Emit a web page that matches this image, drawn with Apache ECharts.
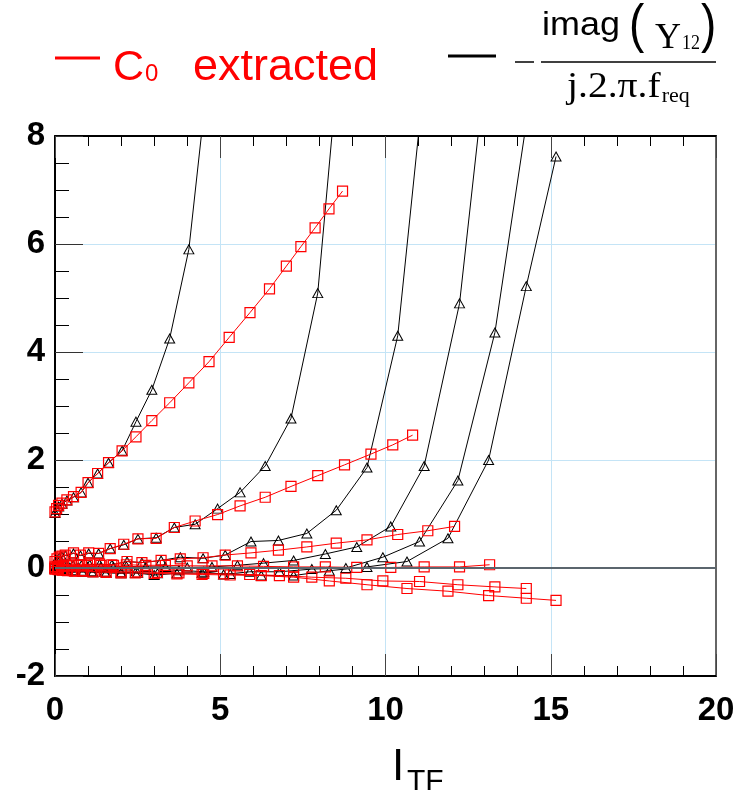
<!DOCTYPE html>
<html>
<head>
<meta charset="utf-8">
<script src="https://cdn.jsdelivr.net/npm/echarts@6/dist/echarts.min.js"></script>
<style>html,body{margin:0;padding:0;background:#fff;}#chart{width:740px;height:801px;}</style>
</head>
<body>
<div id="chart"></div>
<script>
// ---- data ----
var xTicks = [0, 5, 10, 15, 20];
var yTicks = [-2, 0, 2, 4, 6, 8];

var x1 = [0.0, 0.05, 0.11, 0.21, 0.36, 0.56, 0.79, 1.0, 1.29, 1.62, 2.03, 2.45, 2.93, 3.47, 4.05, 4.66, 5.27, 5.9, 6.49, 7.0, 7.44, 7.87, 8.29, 8.70];
var red1 = [1.04, 1.1, 1.16, 1.2, 1.26, 1.32, 1.40, 1.58, 1.75, 1.95, 2.17, 2.43, 2.73, 3.06, 3.43, 3.82, 4.27, 4.73, 5.17, 5.59, 5.95, 6.30, 6.65, 6.98];
var black1 = [1.02, 1.08, 1.14, 1.19, 1.25, 1.31, 1.40, 1.58, 1.75, 1.95, 2.17, 2.71, 3.30, 4.25, 5.90, 9.3];

var x2 = [0.0, 0.06, 0.13, 0.21, 0.31, 0.56, 0.77, 1.02, 1.32, 1.67, 2.08, 2.51, 3.06, 3.61, 4.24, 4.92, 5.6, 6.36, 7.14, 7.95, 8.76, 9.56, 10.22, 10.82];
var red2 = [0.12, 0.17, 0.2, 0.22, 0.24, 0.28, 0.24, 0.28, 0.27, 0.36, 0.44, 0.54, 0.55, 0.75, 0.87, 0.99, 1.15, 1.31, 1.51, 1.71, 1.91, 2.11, 2.28, 2.46];
var black2 = [0.1, 0.15, 0.19, 0.21, 0.23, 0.27, 0.23, 0.27, 0.27, 0.36, 0.43, 0.54, 0.56, 0.75, 0.81, 1.10, 1.40, 1.89, 2.77, 5.09, 10.6];

var x3 = [0.0, 0.08, 0.2, 0.35, 0.55, 0.8, 1.05, 1.35, 1.72, 2.18, 2.63, 3.21, 3.79, 4.48, 5.15, 5.93, 6.76, 7.62, 8.51, 9.44, 10.37, 11.28, 12.09];
var red3 = [0.0, 0.02, 0.03, 0.05, 0.06, 0.06, 0.07, 0.07, 0.06, 0.12, 0.10, 0.14, 0.17, 0.19, 0.24, 0.28, 0.33, 0.39, 0.46, 0.52, 0.62, 0.69, 0.77];
var black3 = [-0.02, 0.0, 0.02, 0.04, 0.05, 0.05, 0.06, 0.07, 0.06, 0.12, 0.10, 0.14, 0.20, 0.18, 0.24, 0.49, 0.51, 0.64, 1.07, 1.86, 4.30, 9.7];

var x4 = [0.0, 0.1, 0.25, 0.45, 0.7, 0.98, 1.39, 1.77, 2.16, 2.75, 3.34, 4.0, 4.75, 5.52, 6.31, 7.22, 8.18, 9.13, 10.16, 11.17, 12.24, 13.15];
var red4 = [0.02, 0.03, 0.04, 0.04, 0.05, 0.05, 0.05, 0.05, 0.06, 0.05, 0.05, 0.04, 0.04, 0.04, 0.03, 0.02, 0.02, 0.01, 0.01, 0.02, 0.02, 0.06];
var black4 = [0.0, 0.0, 0.01, 0.01, 0.01, 0.02, 0.02, 0.02, 0.03, 0.02, 0.02, 0.01, 0.02, 0.05, 0.09, 0.14, 0.26, 0.39, 0.77, 1.89, 4.9, 9.94];

var x5 = [0.0, 0.08, 0.2, 0.35, 0.55, 0.8, 1.1, 1.5, 2.0, 2.5, 3.1, 3.75, 4.5, 5.1, 5.89, 6.79, 7.77, 8.8, 9.92, 11.03, 12.19, 13.31, 14.26];
var red5 = [-0.01, -0.02, -0.03, -0.04, -0.05, -0.05, -0.06, -0.06, -0.07, -0.07, -0.08, -0.09, -0.10, -0.11, -0.12, -0.14, -0.17, -0.19, -0.24, -0.25, -0.31, -0.35, -0.38];
var black5 = [0.0, -0.01, -0.02, -0.03, -0.04, -0.05, -0.06, -0.07, -0.08, -0.09, -0.10, -0.04, -0.07, -0.12, -0.07, -0.07, -0.02, 0.0, 0.20, 0.49, 1.62, 4.36, 8.24];

var x6 = [0.0, 0.1, 0.22, 0.38, 0.6, 0.85, 1.15, 1.55, 2.0, 2.43, 3.0, 3.69, 4.45, 5.3, 6.24, 7.22, 8.3, 9.44, 10.65, 11.89, 13.12, 14.26, 15.16];
var red6 = [-0.02, -0.03, -0.04, -0.05, -0.06, -0.06, -0.07, -0.08, -0.09, -0.09, -0.1, -0.11, -0.12, -0.13, -0.14, -0.17, -0.24, -0.31, -0.38, -0.43, -0.51, -0.56, -0.60];
var black6 = [0.0, -0.02, -0.04, -0.05, -0.06, -0.07, -0.08, -0.09, -0.1, -0.09, -0.13, -0.1, -0.09, -0.11, -0.14, -0.14, -0.05, 0.02, 0.12, 0.55, 2.0, 5.22, 7.62];

var pairs = [
  [x1, red1, black1], [x2, red2, black2], [x3, red3, black3],
  [x4, red4, black4], [x5, red5, black5], [x6, red6, black6]
];

// ---- helpers ----
var SANS = 'Liberation Sans';
var SERIF = 'Liberation Serif';
var mctx = document.createElement('canvas').getContext('2d');
function textW(t, size, fam) { mctx.font = size + 'px "' + fam + '"'; return mctx.measureText(t).width; }
function zip(xs, ys) { var out = []; for (var i = 0; i < ys.length; i++) out.push([xs[i], ys[i]]); return out; }
// place text so that its alphabetic baseline sits at `base` (zrender draws with 'middle')
function txt(str, x, base, size, fam, color, sx) {
  var ratio = fam === SERIF ? 0.3375 : 0.3465;
  return {type: 'text', x: x, y: base - ratio * size, scaleX: sx || 1,
    style: {text: str, fill: color, fontSize: size, fontFamily: fam, align: 'left', verticalAlign: 'middle'}};
}

// ---- chart ----
var chart = echarts.init(document.getElementById('chart'), null, {renderer: 'canvas'});

var series = [{
  type: 'line', data: [], silent: true, z: 1,
  markLine: { silent: true, symbol: 'none', animation: false, label: {show: false},
    lineStyle: {color: '#5b656d', width: 2, type: 'solid'}, data: [{yAxis: 0}] }
}];
pairs.forEach(function (p) {
  series.push({
    type: 'line', data: zip(p[0], p[2]), clip: true, z: 3,
    symbol: 'triangle', symbolSize: [10, 9],
    lineStyle: {color: '#000', width: 1},
    itemStyle: {color: 'rgba(0,0,0,0)', borderColor: '#000', borderWidth: 1}
  });
  series.push({
    type: 'line', data: zip(p[0], p[1]), clip: true, z: 4,
    symbol: 'rect', symbolSize: 10,
    lineStyle: {color: '#ff0000', width: 1},
    itemStyle: {color: 'rgba(0,0,0,0)', borderColor: '#ff0000', borderWidth: 1.2}
  });
});

var labelFont = {fontSize: 33, fontWeight: 'bold', color: '#000', fontFamily: SANS};
var gridColor = '#c4e4f6';

// legend text positions
var cW = textW('C', 43, SANS);
var yW = textW('Y', 36, SERIF);
var denW = textW('j.2.\u03c0.f', 36, SERIF) * 1.1;

var option = {
  animation: false,
  backgroundColor: '#fff',
  grid: {left: 55, top: 136, width: 661, height: 540, containLabel: false},
  xAxis: [{
    type: 'value', min: xTicks[0], max: xTicks[xTicks.length - 1], interval: 5, position: 'bottom',
    axisLine: {show: true, onZero: false, lineStyle: {color: '#000', width: 2}},
    axisTick: {show: true, inside: true, length: 22, lineStyle: {color: '#444', width: 1}},
    minorTick: {show: true, splitNumber: 5, length: 10, lineStyle: {color: '#000', width: 1}},
    axisLabel: Object.assign({margin: 18, showMinLabel: true, showMaxLabel: true}, labelFont),
    splitLine: {show: true, lineStyle: {color: gridColor, width: 1}}
  }, {
    type: 'value', min: 0, max: 20, interval: 5, position: 'top',
    axisLine: {show: true, onZero: false, lineStyle: {color: '#000', width: 2}},
    axisTick: {show: true, inside: true, length: 22, lineStyle: {color: '#444', width: 1}},
    minorTick: {show: true, splitNumber: 5, length: 10, lineStyle: {color: '#000', width: 1}},
    axisLabel: {show: false}, splitLine: {show: false}
  }],
  yAxis: [{
    type: 'value', min: yTicks[0], max: yTicks[yTicks.length - 1], interval: 2, position: 'left',
    axisLine: {show: true, onZero: false, lineStyle: {color: '#000', width: 2}},
    axisTick: {show: true, inside: true, length: 28, lineStyle: {color: '#333', width: 1}},
    minorTick: {show: true, splitNumber: 4, length: 14, lineStyle: {color: '#000', width: 1}},
    axisLabel: Object.assign({margin: 10, showMinLabel: true, showMaxLabel: true}, labelFont),
    splitLine: {show: true, lineStyle: {color: gridColor, width: 1}}
  }, {
    type: 'value', min: -2, max: 8, interval: 2, position: 'right',
    axisLine: {show: true, onZero: false, lineStyle: {color: '#666', width: 2}},
    axisTick: {show: false}, axisLabel: {show: false}, splitLine: {show: false}
  }],
  series: series,
  graphic: [
    // legend: C0 extracted
    {type: 'line', shape: {x1: 55, y1: 58, x2: 100, y2: 58}, style: {stroke: '#ff0000', lineWidth: 3}},
    txt('C', 113, 83, 43, SANS, '#ff0000'),
    txt('0', 113 + cW + 1, 83, 24, SANS, '#ff0000'),
    txt('extracted', 193, 83, 45, SANS, '#ff0000'),
    // legend: -imag(Y12)/(j.2.pi.f_req)
    {type: 'line', shape: {x1: 448, y1: 56, x2: 496, y2: 56}, style: {stroke: '#000', lineWidth: 3}},
    {type: 'line', shape: {x1: 515, y1: 62, x2: 534, y2: 62}, style: {stroke: '#000', lineWidth: 1.5}},
    {type: 'line', shape: {x1: 541, y1: 62, x2: 716, y2: 62}, style: {stroke: '#000', lineWidth: 1.5}},
    txt('imag', 542, 37, 33, SANS, '#000', 1.09),
    txt('(', 629, 46, 54, SANS, '#000', 0.85),
    txt('Y', 655, 51, 36, SERIF, '#000'),
    txt('12', 655 + yW + 1, 50.5, 20, SERIF, '#000', 0.9),
    txt(')', 701, 46, 54, SANS, '#000', 0.85),
    txt('j.2.\u03c0.f', 567, 100, 36, SERIF, '#000', 1.1),
    txt('req', 567 + denW + 1, 104, 22, SERIF, '#000'),
    // x axis name I_TF
    txt('I', 392, 783, 44, SANS, '#000'),
    txt('TF', 407, 792, 30, SANS, '#000')
  ]
};
chart.setOption(option);
</script>
</body>
</html>
